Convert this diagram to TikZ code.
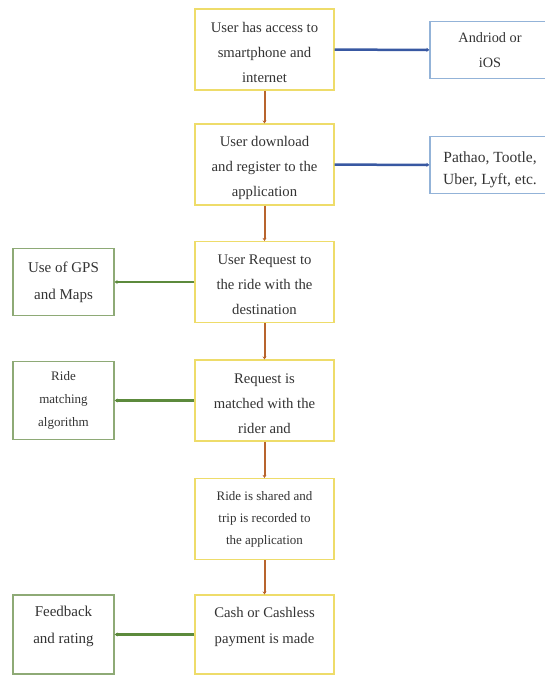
\documentclass[tikz,border=0pt]{standalone}
\usepackage{fontspec}
\setmainfont{Liberation Serif}
\usepackage{tikz}
\usetikzlibrary{arrows.meta}

\definecolor{boxyellow}{HTML}{EEDC6A}
\definecolor{boxgreen}{HTML}{8EAA76}
\definecolor{boxblue}{HTML}{93B3D8}
\definecolor{linebrown}{HTML}{B8642E}
\definecolor{lineblue}{HTML}{3858A2}
\definecolor{linegreen}{HTML}{5C8A3C}
\definecolor{textgray}{HTML}{333333}

% extra room above the first line / below the last line of a node
\newcommand{\topgap}[1]{\rule{0pt}{#1}}
\newcommand{\botgap}[1]{\rule[-#1]{0pt}{0pt}}

\begin{document}
\begin{tikzpicture}[x=1pt, y=-1pt, >={Stealth[length=3pt,width=4pt]}, big/.style={
  % The shape:
  rectangle,
  % The size:
  minimum width=139pt, minimum height=81pt, inner sep=0pt,
  % The border
  line width=1.2pt, draw=boxyellow,
      text=textgray, font=\fontsize{14.7}{25}\selectfont,
      align=center},
  aside/.style={rectangle, minimum width=101pt, minimum height=67pt, inner sep=0pt,
      line width=1.2pt, draw=boxgreen,
      text=textgray, font=\fontsize{15}{27}\selectfont, align=center},
  store/.style={rectangle, minimum width=120pt, minimum height=57pt, inner sep=0pt,
      line width=1.2pt, draw=boxblue,
      text=textgray, font=\fontsize{14.3}{25}\selectfont, align=center}]
  \clip (0,0) rectangle (545,677);

  \node [big] (access) at (264.5,49.5) {\topgap{17pt}User has access to\\ smartphone and\\ internet};
  \node [big] (download) at (264.5,164.5) {\topgap{17pt}User download\\ and register to the\\ application};
  \node [big] (request) at (264.5,282) {\topgap{16pt}User Request to\\ the ride with the\\ destination};
  \node [big] (match) at (264.5,400.5) {\topgap{17pt}Request is\\ matched with the\\ rider and};
  \node [big, font=\fontsize{13}{22}\selectfont] (shared) at (264.5,519) {Ride is shared and\\ trip is recorded to\\ the application};
  \node [big, minimum height=79pt, font=\fontsize{14.7}{26}\selectfont] (payment) at (264.5,634.5) {Cash or Cashless\\ payment is made\botgap{19pt}};

  \node [store] (os) at (490,50) {Andriod or\\ iOS};
  \node [store, font=\fontsize{15.5}{22}\selectfont] (apps) at (490,165) {\topgap{20pt}Pathao, Tootle,\\ Uber, Lyft, etc.};

  \node [aside] (gps) at (63.5,282) {Use of GPS\\ and Maps};
  \node [aside, minimum height=78pt, font=\fontsize{13}{23}\selectfont] (algo) at (63.5,400.5) {Ride\\ matching\\ algorithm};
  \node [aside, minimum height=79pt] (feedback) at (63.5,634.5) {Feedback\\ and rating\botgap{19pt}};

  \foreach \a/\b in {access/download, download/request, request/match, match/shared, shared/payment}
    \draw [line width=2pt, draw=linebrown, ->] (\a) -- (\b);

  \draw [line width=2.5pt, draw=lineblue, ->] (access) -- (os);
  \draw [line width=2.5pt, draw=lineblue, ->] (download) -- (apps);

  \draw [line width=2.5pt, draw=linegreen, ->] (request) -- (gps);
  \draw [line width=2.5pt, draw=linegreen, ->] (match) -- (algo);
  \draw [line width=2.5pt, draw=linegreen, ->] (payment) -- (feedback);

  \end{tikzpicture}
\end{document}
